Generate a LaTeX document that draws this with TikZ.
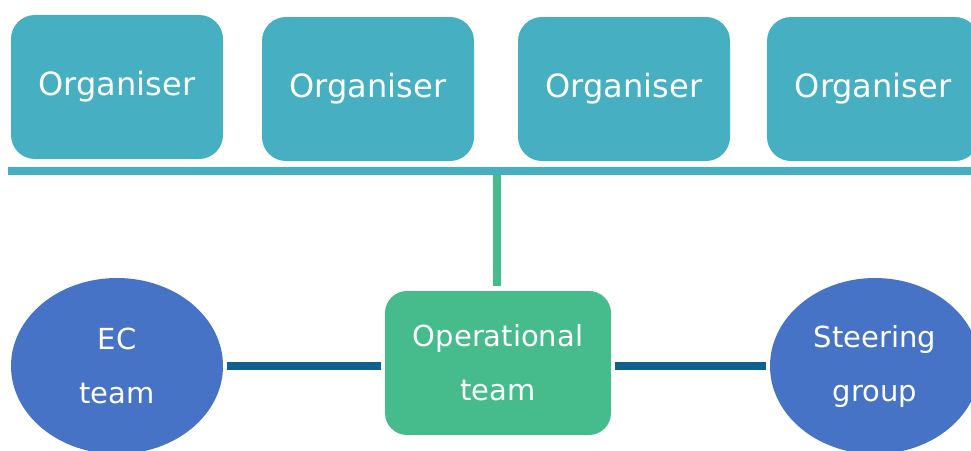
\documentclass[tikz,border=0pt]{standalone}
\usepackage{fontspec}
\setmainfont{DejaVu Sans}
\usetikzlibrary{shapes.geometric}
\definecolor{tealbox}{HTML}{47AFC2}
\definecolor{greenbox}{HTML}{46BC8C}
\definecolor{blueell}{HTML}{4673C5}
\definecolor{darkline}{HTML}{0F5F8F}
\begin{document}
\begin{tikzpicture}[x=1pt,y=-1pt,
  orgbox/.style={rectangle, rounded corners=24pt, fill=tealbox, minimum width=212pt, minimum height=144pt, inner sep=0pt, text=white, font=\fontsize{32pt}{38pt}\selectfont},
  opbox/.style={rectangle, rounded corners=22pt, fill=greenbox, minimum width=226pt, minimum height=144pt, inner sep=0pt, text=white, align=center, font=\fontsize{29pt}{54pt}\selectfont},
  teamell/.style={ellipse, fill=blueell, minimum width=212pt, minimum height=176pt, inner sep=0pt, text=white, align=center, font=\fontsize{29pt}{54pt}\selectfont},
  barline/.style={draw=tealbox, line width=8pt},
  vline/.style={draw=greenbox, line width=8pt},
  linkline/.style={draw=darkline, line width=8pt, shorten <=4pt, shorten >=4pt}]
\useasboundingbox (0,0) rectangle (971,450);
\clip (0,0) rectangle (971,450);
\node[orgbox] (o1) at (117,87) {Organiser};
\node[orgbox] (o2) at (368,89) {Organiser};
\node[orgbox] (o3) at (624,89) {Organiser};
\node[orgbox] (o4) at (873,89) {Organiser};
\coordinate (barL) at (8,170.5);
\coordinate (barR) at (975,170.5);
\draw[barline] (barL) -- (barR);
\coordinate (barJ) at (497,174.5);
\node[opbox] (op) at (498,363) {Operational\\team};
\draw[vline, shorten >=5pt] (barJ) -- (barJ |- op.north);
\node[teamell] (ec) at (117,366) {EC\\team};
\node[teamell, minimum width=210pt] (sg) at (875,366) {Steering\\group};
\draw[linkline] (ec.east) -- (ec.east -| op.west);
\draw[linkline] (op.east |- sg.west) -- (sg.west);
\end{tikzpicture}
\end{document}
